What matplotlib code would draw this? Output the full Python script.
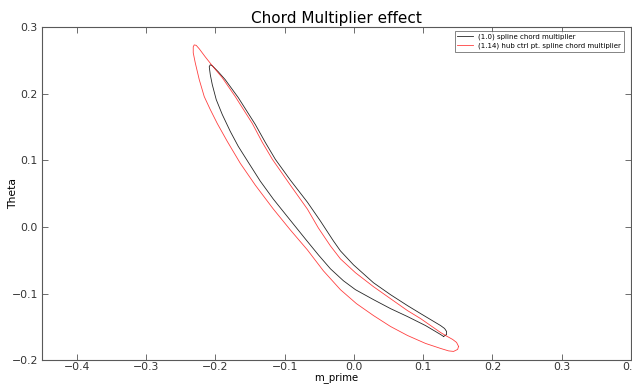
import matplotlib
matplotlib.use("Agg")
import matplotlib.pyplot as plt

# (1.0) spline chord multiplier: closed profile, TE -> upper -> LE -> lower -> TE
base_x = [0.1295, 0.1338, 0.1338, 0.1309, 0.1251, 0.0962, 0.0774, 0.0529, 0.0283,
          -0.0006, -0.0194, -0.0295, -0.0483, -0.0671, -0.0916, -0.1133, -0.1278,
          -0.1422, -0.1668, -0.1856, -0.1957, -0.2043, -0.2072,
          -0.2087, -0.2072, -0.2043, -0.1986, -0.1899, -0.1783, -0.1668, -0.1523,
          -0.1350, -0.1162, -0.0931, -0.0700, -0.0512, -0.0338, -0.0151, 0.0023,
          0.0283, 0.0529, 0.0774, 0.1034, 0.1251, 0.1295]
base_y = [-0.1642, -0.1612, -0.1567, -0.1522, -0.1478, -0.1298, -0.1179, -0.1015, -0.0836,
          -0.0567, -0.0358, -0.0209, 0.0090, 0.0373, 0.0702, 0.1015, 0.1269,
          0.1537, 0.1940, 0.2209, 0.2328, 0.2418, 0.2433,
          0.2403, 0.2284, 0.2134, 0.1910, 0.1687, 0.1433, 0.1209, 0.0970,
          0.0687, 0.0418, 0.0119, -0.0179, -0.0418, -0.0627, -0.0806, -0.0940,
          -0.1089, -0.1224, -0.1343, -0.1478, -0.1612, -0.1642]

# (1.14) hub ctrl pt. spline chord multiplier
hub_x = [0.1511, 0.1482, 0.1425, 0.1323, 0.1251, 0.0962, 0.0774, 0.0529, 0.0283,
         0.0023, -0.0194, -0.0338, -0.0512, -0.0671, -0.0916, -0.1176, -0.1321,
         -0.1465, -0.1711, -0.1899, -0.2043, -0.2145, -0.2231, -0.2275, -0.2304,
         -0.2318, -0.2318, -0.2289, -0.2231, -0.2159, -0.2072, -0.1971, -0.1827,
         -0.1639, -0.1422, -0.1162, -0.0916, -0.0671, -0.0440, -0.0194, 0.0037,
         0.0283, 0.0529, 0.0774, 0.1034, 0.1251, 0.1367, 0.1439, 0.1497, 0.1511]
hub_y = [-0.1791, -0.1731, -0.1686, -0.1627, -0.1582, -0.1373, -0.1254, -0.1075, -0.0895,
         -0.0686, -0.0478, -0.0284, -0.0015, 0.0269, 0.0627, 0.1015, 0.1269,
         0.1552, 0.1955, 0.2239, 0.2418, 0.2552, 0.2672, 0.2724, 0.2731,
         0.2701, 0.2612, 0.2463, 0.2209, 0.1955, 0.1761, 0.1552, 0.1284,
         0.0955, 0.0627, 0.0269, -0.0045, -0.0343, -0.0657, -0.0940, -0.1149,
         -0.1328, -0.1492, -0.1627, -0.1746, -0.1821, -0.1858, -0.1866, -0.1836, -0.1791]

labels = ["(1.0) spline chord multiplier", "(1.14) hub ctrl pt. spline chord multiplier"]
xticks = [-0.4, -0.3, -0.2, -0.1, 0.0, 0.1, 0.2, 0.3, 0.4]
yticks = [-0.2, -0.1, 0.0, 0.1, 0.2, 0.3]
xticklabels = ["\u22120.4", "\u22120.3", "\u22120.2", "\u22120.1", "0.0", "0.1", "0.2", "0.3", "0.4"]
yticklabels = ["\u22120.2", "\u22120.1", "0.0", "0.1", "0.2", "0.3"]

fig = plt.figure(figsize=(6.32, 3.85), dpi=100)
ax = fig.add_axes([0.0665, 0.064, 0.932, 0.866])
ax.plot(base_x, base_y, color="0.15", lw=0.6, label=labels[0])
ax.plot(hub_x, hub_y, color="r", lw=0.6, alpha=0.75, label=labels[1])
ax.set_xlim(-0.45, 0.4)
ax.set_ylim(-0.2, 0.3)
ax.set_xticks(xticks)
ax.set_yticks(yticks)
ax.set_xticklabels(xticklabels)
ax.set_yticklabels(yticklabels)
ax.tick_params(direction="in", top=True, right=True, labelsize=7.8, length=4, width=0.5,
               colors="0.2", pad=3)
ax.tick_params(axis="x", pad=1.0)
for s in ax.spines.values():
    s.set_linewidth(0.8)
    s.set_color("0.35")
ax.set_title("Chord Multiplier effect", fontsize=11, pad=3)
ax.set_xlabel("m_prime", fontsize=7.3)
ax.xaxis.set_label_coords(0.5, -0.036)
ax.set_ylabel("Theta", fontsize=7.8)
ax.yaxis.set_label_coords(-0.041, 0.5)
leg = ax.legend(loc="upper right", bbox_to_anchor=(0.995, 1.0), fontsize=5, frameon=True,
                fancybox=False, handlelength=2.2, borderpad=0.4, labelspacing=0.3,
                borderaxespad=0.6)
leg.get_frame().set_edgecolor("0.3")
leg.get_frame().set_linewidth(0.6)
fig.savefig("out.png", dpi=100, facecolor="white")
